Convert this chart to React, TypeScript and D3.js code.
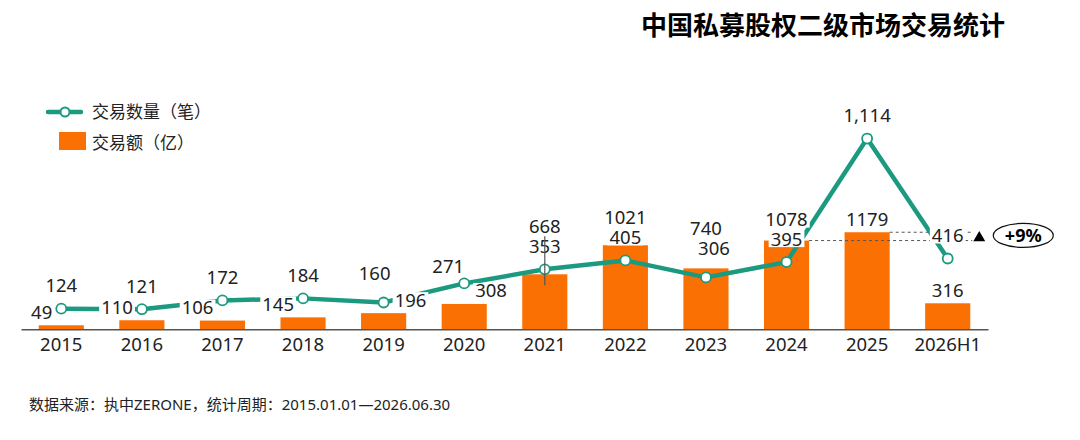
import React, { useEffect, useRef } from 'react';
import * as d3 from 'd3';

// 年份
const years = ['2015', '2016', '2017', '2018', '2019', '2020', '2021', '2022', '2023', '2024', '2025', '2026H1'];
// 交易额（亿）
const dealAmount = [49, 110, 106, 145, 196, 308, 668, 1021, 740, 1078, 1179, 316];
// 交易数量（笔）
const dealCount = [124, 121, 172, 184, 160, 271, 353, 405, 306, 395, 1114, 416];

const title = '中国私募股权二级市场交易统计';
const legendLabels = ['交易数量（笔）', '交易额（亿）'];
const sourceNote = '数据来源：执中ZERONE，统计周期：2015.01.01—2026.06.30';
const growthLabel = '+9%';

const ORANGE = '#FB7003';
const TEAL = '#1B9A80';
const FONT = '"Noto Sans", "Noto Sans CJK SC", sans-serif';

const DealChart: React.FC = () => {
  const svgRef = useRef<SVGSVGElement | null>(null);

  useEffect(() => {
    const svg = d3.select(svgRef.current);
    svg.selectAll('*').remove();
    const width = 1080;
    const height = 440;
    svg.attr('width', width).attr('height', height).style('font-family', FONT);

    const x = d3.scaleBand<string>().domain(years).range([21, 988]).paddingInner(0.44).paddingOuter(0.22);
    const yBar = d3.scaleLinear().domain([0, 4000]).range([329.3, 0]);
    const yLine = d3.scaleLinear().domain([0, 1920]).range([330, 0]);
    const bw = x.bandwidth();
    const cx = (d: string) => (x(d) ?? 0) + bw / 2;

    // title
    svg.append('text')
      .attr('x', 1005).attr('y', 35)
      .attr('text-anchor', 'end')
      .attr('font-size', 26).attr('font-weight', 'bold')
      .attr('font-family', '"Noto Sans CJK SC", sans-serif')
      .text(title);

    // legend
    const lg = svg.append('g');
    lg.append('line').attr('x1', 48).attr('x2', 81).attr('y1', 112).attr('y2', 112)
      .attr('stroke', TEAL).attr('stroke-width', 4.5).attr('stroke-linecap', 'round');
    lg.append('circle').attr('cx', 65).attr('cy', 112).attr('r', 4.5)
      .attr('fill', '#fff').attr('stroke', TEAL).attr('stroke-width', 2);
    lg.append('rect').attr('x', 59).attr('y', 132).attr('width', 27).attr('height', 18).attr('fill', ORANGE);
    lg.selectAll('text.lg')
      .data(legendLabels)
      .join('text')
      .attr('class', 'lg')
      .attr('x', 92)
      .attr('y', (_, i) => 112 + i * 31)
      .attr('dy', '0.36em')
      .attr('font-size', 17)
      .attr('fill', '#222')
      .text(d => d);

    // bars
    svg.append('g')
      .selectAll('rect')
      .data(years)
      .join('rect')
      .attr('x', d => x(d) ?? 0)
      .attr('y', (_, i) => yBar(dealAmount[i]))
      .attr('width', bw)
      .attr('height', (_, i) => yBar(0) - yBar(dealAmount[i]))
      .attr('fill', ORANGE);

    // dashed comparison lines (2024 vs 2025 amount)
    const i24 = years.indexOf('2024');
    const i25 = years.indexOf('2025');
    const dashEnd = (x(years[years.length - 1]) ?? 0) + bw + 2;
    const cmp = [i24, i25];
    svg.append('g')
      .selectAll('line')
      .data(cmp)
      .join('line')
      .attr('x1', i => (x(years[i]) ?? 0) + bw)
      .attr('x2', dashEnd)
      .attr('y1', i => yBar(dealAmount[i]))
      .attr('y2', i => yBar(dealAmount[i]))
      .attr('stroke', '#555')
      .attr('stroke-width', 1)
      .attr('stroke-dasharray', '3,3');

    // axis
    const axis = svg.append('g')
      .attr('transform', `translate(0,${yBar(0)})`)
      .call(d3.axisBottom(x).tickSize(0).tickPadding(9));
    axis.select('.domain').attr('stroke', '#555').attr('stroke-width', 1.6);
    axis.selectAll('text').attr('font-size', 18.5).attr('fill', '#222').attr('font-family', FONT);

    // line
    const line = d3.line<number>()
      .x((_, i) => cx(years[i]))
      .y(d => yLine(d));
    svg.append('path')
      .datum(dealCount)
      .attr('d', line)
      .attr('fill', 'none')
      .attr('stroke', TEAL)
      .attr('stroke-width', 4.5)
      .attr('stroke-linejoin', 'round');
    svg.append('g')
      .selectAll('circle')
      .data(dealCount)
      .join('circle')
      .attr('cx', (_, i) => cx(years[i]))
      .attr('cy', d => yLine(d))
      .attr('r', 5)
      .attr('fill', '#fff')
      .attr('stroke', TEAL)
      .attr('stroke-width', 1.8);

    // label layout
    const countNudge: Record<string, [number, number]> = {
      '2019': [-9, -6],
      '2020': [-16, 6],
      '2023': [8, -6],
    };
    type Lab = { text: string; x: number; y: number; anchor: string };
    const labels: Lab[] = [];
    years.forEach((yr, i) => {
      const [ndx, ndy] = countNudge[yr] ?? [0, 0];
      const cLab = { text: d3.format(',')(dealCount[i]), x: cx(yr) + ndx, y: yLine(dealCount[i]) - 23 + ndy, anchor: 'middle' };
      labels.push(cLab);
      const barTop = yBar(dealAmount[i]) - 13;
      const amt = String(dealAmount[i]);
      if (i <= 3) labels.push({ text: amt, x: cx(yr) - 9, y: barTop, anchor: 'end' });
      else if (i <= 5) labels.push({ text: amt, x: cx(yr) + 11, y: barTop, anchor: 'start' });
      else if (i <= 9) labels.push({ text: amt, x: cx(yr), y: cLab.y - 19.5, anchor: 'middle' });
      else labels.push({ text: amt, x: cx(yr), y: barTop, anchor: 'middle' });
    });

    const lab = svg.append('g');
    const texts = lab.selectAll('text')
      .data(labels)
      .join('text')
      .attr('x', d => d.x)
      .attr('y', d => d.y)
      .attr('dy', '0.35em')
      .attr('text-anchor', d => d.anchor)
      .attr('font-size', 18.5)
      .attr('fill', '#222')
      .text(d => d.text);
    texts.each(function (d) {
      const b = (this as SVGTextElement).getBBox();
      lab.insert('rect', 'text')
        .attr('x', b.x - 2)
        .attr('y', d.y - 8)
        .attr('width', b.width + 4)
        .attr('height', 16)
        .attr('fill', '#fff');
    });

    // stray tick over 2021
    const x21 = cx('2021');
    const y21 = yLine(dealCount[years.indexOf('2021')]);
    svg.append('line')
      .attr('x1', x21).attr('x2', x21)
      .attr('y1', y21 - 33).attr('y2', y21 + 16)
      .attr('stroke', '#555').attr('stroke-width', 1.2);

    // growth marker
    const midY = (yBar(dealAmount[i24]) + yBar(dealAmount[i25])) / 2;
    svg.append('path')
      .attr('d', d3.symbol(d3.symbolTriangle, 62)())
      .attr('transform', `translate(${dashEnd + 7},${midY + 1.5})`)
      .attr('fill', '#000');
    svg.append('ellipse')
      .attr('cx', dashEnd + 51).attr('cy', midY - 1)
      .attr('rx', 30).attr('ry', 12)
      .attr('fill', '#fff').attr('stroke', '#111').attr('stroke-width', 1.2);
    svg.append('text')
      .attr('x', dashEnd + 51).attr('y', midY - 1)
      .attr('dy', '0.35em')
      .attr('text-anchor', 'middle')
      .attr('font-size', 18).attr('font-weight', 'bold')
      .text(growthLabel);

    // source note
    svg.append('text')
      .attr('x', 29).attr('y', 405)
      .attr('dy', '0.35em')
      .attr('font-size', 15)
      .attr('fill', '#222')
      .text(sourceNote);
  }, []);

  return <svg ref={svgRef} style={{ position: 'absolute', left: 0, top: 0, background: '#fff' }}></svg>;
};

export default function App() {
  return <DealChart />;
}
